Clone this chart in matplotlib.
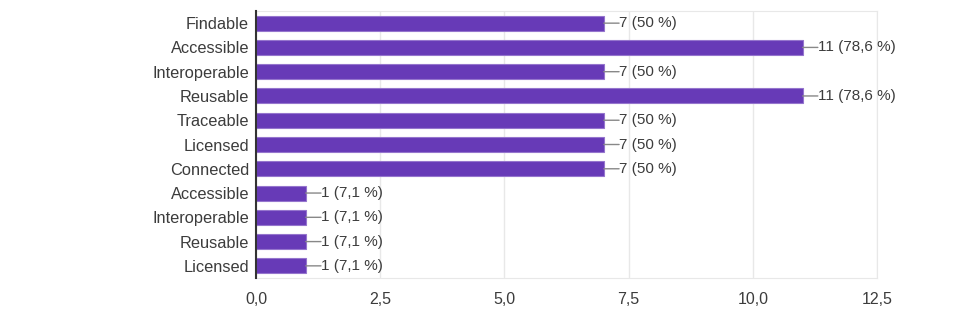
import matplotlib
matplotlib.use("Agg")
import matplotlib.pyplot as plt

categories = ["Findable", "Accessible", "Interoperable", "Reusable", "Traceable",
              "Licensed", "Connected", "Accessible", "Interoperable", "Reusable", "Licensed"]
counts = [7, 11, 7, 11, 7, 7, 7, 1, 1, 1, 1]
value_labels = ["7 (50 %)", "11 (78,6 %)", "7 (50 %)", "11 (78,6 %)", "7 (50 %)",
                "7 (50 %)", "7 (50 %)", "1 (7,1 %)", "1 (7,1 %)", "1 (7,1 %)", "1 (7,1 %)"]
xticks = [0, 2.5, 5, 7.5, 10, 12.5]
xtick_labels = ["0,0", "2,5", "5,0", "7,5", "10,0", "12,5"]

plt.rcParams['font.family'] = ['Liberation Sans', 'DejaVu Sans']
text_col = '#3c3c3c'

fig = plt.figure(figsize=(9.57, 3.24), dpi=100)
ax = fig.add_axes([0.2675, 0.142, 0.649, 0.824])

pos = list(range(len(categories)))
ax.barh(pos, counts, height=0.62, color='#673ab7', edgecolor='#9575cd', linewidth=0.8, zorder=3)

# подписи значений с короткой линией-выноской
for y, c, lab in zip(pos, counts, value_labels):
    ax.annotate('', xy=(c, y), xytext=(11, 0), textcoords='offset points',
                arrowprops=dict(arrowstyle='-', color='#888888', lw=1, shrinkA=0, shrinkB=0),
                zorder=4)
    ax.annotate(lab, xy=(c, y), xytext=(11, 0), textcoords='offset points',
                va='center', ha='left', fontsize=11, color=text_col)

ax.set_xlim(0, 12.5)
ax.set_ylim(10.5, -0.5)
ax.set_yticks(pos)
ax.set_yticklabels(categories, fontsize=11.8, color=text_col)
ax.set_xticks(xticks)
ax.set_xticklabels(xtick_labels, fontsize=11.5, color=text_col)
ax.tick_params(axis='both', length=0)
ax.tick_params(axis='y', pad=5)
ax.tick_params(axis='x', pad=10)

ax.grid(axis='x', color='#e8e8e8', linewidth=1, zorder=0)
for s in ['top', 'right', 'bottom']:
    ax.spines[s].set_color('#e8e8e8')
ax.spines['left'].set_color('#333333')
ax.spines['left'].set_linewidth(1.5)
ax.spines['left'].set_zorder(5)

fig.savefig('out.png', dpi=100)
